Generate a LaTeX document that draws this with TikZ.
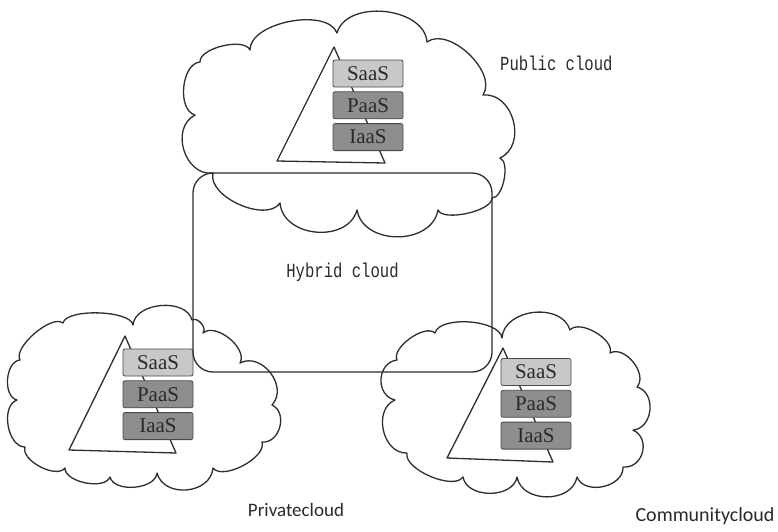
\documentclass[tikz,border=0pt]{standalone}
\usepackage{fontspec}
\setmainfont{Liberation Serif}
\newfontfamily\labelfont[FakeStretch=0.78]{Liberation Mono}
\newfontfamily\calfont{Carlito}
\usetikzlibrary{positioning}
\definecolor{inkline}{HTML}{2E2E2E}
\definecolor{saasgray}{HTML}{C8C8C8}
\definecolor{layergray}{HTML}{8E8E8E}
\definecolor{boxedge}{HTML}{4A4A4A}
\definecolor{darktext}{HTML}{2A2A2A}

\begin{document}
\begin{tikzpicture}[x=1pt, y=-1pt,
  every node/.style={text=darktext},
  cloudline/.style={draw=inkline, line width=1.3pt, line join=round},
  puff/.style={bend left=80, looseness=#1},
  layer/.style={draw=boxedge, line width=0.8pt, rounded corners=2pt, fill=layergray,
                minimum width=70pt, minimum height=27pt, inner sep=0pt,
                font=\fontsize{21}{21}\selectfont},
  saas/.style={layer, fill=saasgray},
  hybrid/.style={draw=inkline, line width=1.3pt, rounded corners=20pt,
                 minimum width=299pt, minimum height=199pt,
                 font=\labelfont\fontsize{20}{20}\selectfont},
  tag/.style={font=\labelfont\fontsize{20}{20}\selectfont, inner sep=0pt},
  sidetag/.style={font=\calfont\fontsize{19}{19}\selectfont, inner sep=0pt},
]
  \fill[white] (0,0) rectangle (778,531);
  \useasboundingbox (0,0) rectangle (778,531);

  % Public cloud
  \draw[cloudline] (213,173) to[puff=1.2] (195,115) to[puff=0.9] (200,62)
    to[puff=0.7] (250,50) to[puff=0.8] (337,33) to[puff=1.0] (427,42)
    to[puff=0.9] (483,95) to[puff=1.2] (500,158) to[puff=0.7] (492,198)
    to[puff=0.6] (438,210) to[puff=1.15] (357,210) to[puff=1.15] (280,203)
    to[puff=0.85] (213,173) -- cycle;
  \draw[cloudline] (334,47) -- (277,161) -- (385,163) -- cycle;
  \node[saas] (pubSaaS) at (368,73.5) {SaaS};
  \node[layer, below=4pt of pubSaaS] (pubPaaS) {PaaS};
  \node[layer, below=4pt of pubPaaS] (pubIaaS) {IaaS};
  \node[tag, anchor=west] (pubTag) at (500,63) {Public cloud};

  % Private cloud
  \draw[cloudline] (20,360) to[puff=0.65] (63,323) to[puff=0.55] (133,325)
    to[puff=1.0] (192,320) to[puff=1.0] (203,333) to[puff=0.9] (240,363)
    to[puff=1.2] (272,405) to[puff=1.2] (262,442) to[puff=0.75] (213,468)
    to[puff=1.2] (157,473) to[puff=0.9] (110,477) to[puff=0.8] (65,468)
    to[puff=0.8] (25,447) to[puff=0.95] (17,400) to[puff=0.95] (20,360) -- cycle;
  \draw[cloudline] (125,336) -- (69,450) -- (176,453) -- cycle;
  \node[saas] (privSaaS) at (158,362.5) {SaaS};
  \node[layer, below=4pt of privSaaS] (privPaaS) {PaaS};
  \node[layer, below=4pt of privPaaS] (privIaaS) {IaaS};
  \node[sidetag] (privTag) at (296,510) {Privatecloud};

  % Community cloud
  \draw[cloudline] (397,360) to[puff=0.75] (435,333) to[puff=0.7] (502,338)
    to[puff=1.1] (570,330) to[puff=0.8] (610,353) to[puff=1.0] (637,387)
    to[puff=1.2] (633,430) to[puff=1.35] (623,467) to[puff=1.1] (577,477)
    to[puff=1.15] (517,477) to[puff=1.05] (463,477) to[puff=0.7] (407,453)
    to[puff=1.15] (395,400) to[puff=1.3] (397,360) -- cycle;
  \draw[cloudline] (503,348) -- (447,458) -- (553,462) -- cycle;
  \node[saas] (commSaaS) at (536,372) {SaaS};
  \node[layer, below=4pt of commSaaS] (commPaaS) {PaaS};
  \node[layer, below=4pt of commPaaS] (commIaaS) {IaaS};
  \node[sidetag, font=\calfont\fontsize{20}{20}\selectfont] (commTag) at (705,516) {Communitycloud};

  % Hybrid cloud
  \node[hybrid] (hybrid) at (342.5,272.5) {Hybrid cloud};
\end{tikzpicture}
\end{document}
